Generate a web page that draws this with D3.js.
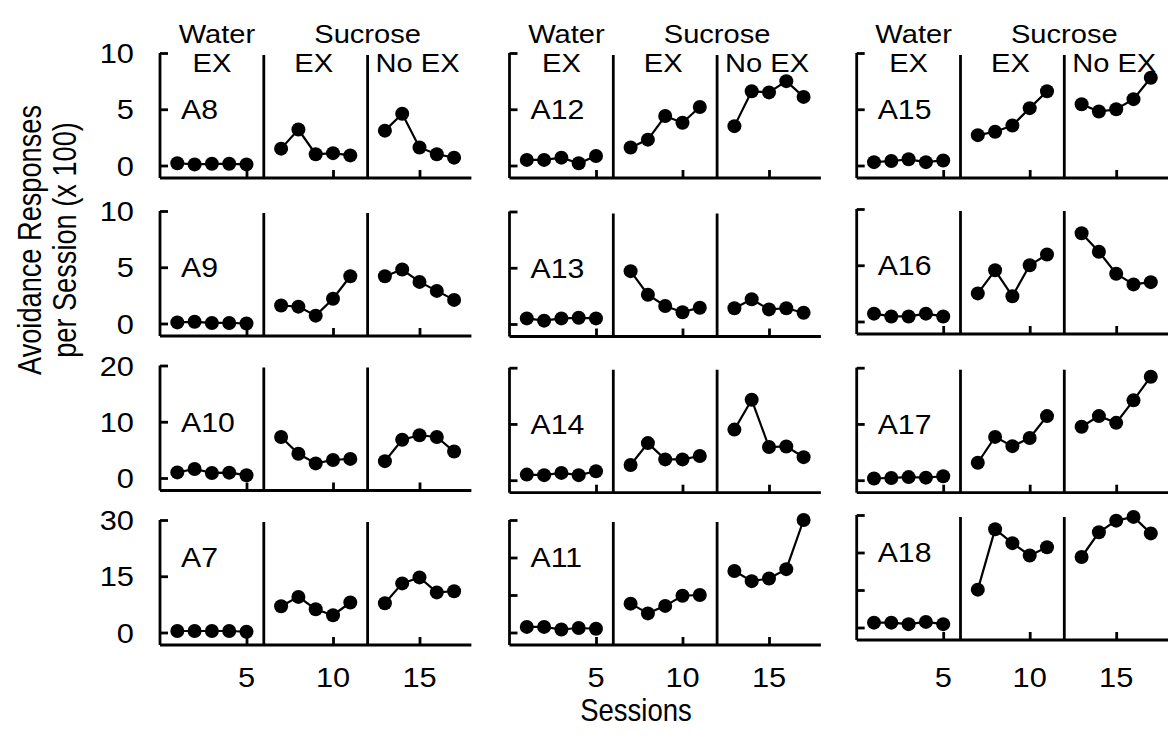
<!DOCTYPE html>
<html>
<head>
<meta charset="utf-8">
<script src="https://cdn.jsdelivr.net/npm/d3@7"></script>
<style>
  html, body { margin: 0; padding: 0; background: #fff; }
  svg text { font-family: "Liberation Sans", Arial, sans-serif; fill: #000; }
</style>
</head>
<body>
<svg id="chart" width="1168" height="738"></svg>
<script>
// ---------- DATA ----------
const waterSessions = [1, 2, 3, 4, 5];
const exSessions = [7, 8, 9, 10, 11];
const noExSessions = [13, 14, 15, 16, 17];
const xTickValues = [5, 10, 15];
const xTickLabels = ["5", "10", "15"];
const phaseDividers = [6, 12];
const phaseTitles = ["Water", "Sucrose"];
const phaseSubtitles = ["EX", "EX", "No EX"];

// values per animal: 5 water EX, 5 sucrose EX, 5 sucrose No EX (x 100 responses)
const A8  = [0.2, 0.1, 0.15, 0.15, 0.1,   1.5, 3.2, 1.0, 1.1, 0.9,   3.1, 4.6, 1.6, 1.0, 0.7];
const A12 = [0.5, 0.5, 0.7, 0.2, 0.85,    1.6, 2.3, 4.4, 3.8, 5.2,   3.5, 6.6, 6.5, 7.5, 6.1];
const A15 = [0.3, 0.4, 0.55, 0.3, 0.45,   2.7, 3.0, 3.55, 5.1, 6.6,  5.45, 4.8, 5.0, 5.9, 7.8];
const A9  = [0.1, 0.15, 0.05, 0.05, 0.0,  1.6, 1.5, 0.7, 2.2, 4.2,   4.2, 4.8, 3.7, 2.9, 2.1];
const A13 = [0.5, 0.3, 0.5, 0.55, 0.5,    4.7, 2.6, 1.6, 1.05, 1.45, 1.4, 2.2, 1.3, 1.4, 1.0];
const A16 = [0.7, 0.45, 0.45, 0.7, 0.45,  2.5, 4.55, 2.25, 5.0, 5.95, 7.85, 6.2, 4.25, 3.3, 3.5];
const A10 = [1.0, 1.6, 0.9, 0.95, 0.5,    7.3, 4.3, 2.6, 3.2, 3.4,   3.0, 6.8, 7.6, 7.3, 4.7];
const A14 = [1.0, 0.9, 1.3, 0.9, 1.6,     2.7, 6.6, 3.7, 3.7, 4.3,   9.0, 14.3, 5.9, 6.0, 4.1];
const A17 = [0.3, 0.4, 0.55, 0.45, 0.7,   3.1, 7.7, 6.05, 7.5, 11.4, 9.5, 11.4, 10.2, 14.2, 18.4];
const A7  = [0.4, 0.4, 0.4, 0.4, 0.2,     7.0, 9.5, 6.2, 4.6, 8.0,   7.8, 13.1, 14.7, 10.7, 11.0];
const A11 = [1.5, 1.5, 0.8, 1.2, 1.0,     7.7, 5.1, 7.1, 9.8, 10.0,  16.4, 13.7, 14.4, 16.9, 30.0];
const A18 = [1.3, 1.3, 0.9, 1.5, 0.9,     10.1, 26.2, 22.5, 19.2, 21.4, 18.8, 25.4, 28.5, 29.5, 25.1];

const panelNames = [
  ["A8", "A12", "A15"],
  ["A9", "A13", "A16"],
  ["A10", "A14", "A17"],
  ["A7", "A11", "A18"]
];
const panelData = { A8, A12, A15, A9, A13, A16, A10, A14, A17, A7, A11, A18 };
const rowMax = [10, 10, 20, 30];
const rowTicksLabeled = [[0, 5, 10], [0, 5, 10], [0, 10, 20], [0, 15, 30]];
const rowTicksUnlabeled = [[0, 5, 10], [0, 5, 10], [0, 10, 20], [0, 10, 20, 30]];
const yTitleLines = ["Avoidance Responses", "per Session (x 100)"];
const xTitle = "Sessions";

// ---------- LAYOUT ----------
const svg = d3.select("#chart");
const colX0 = [160, 509.5, 856.7];
const plotW = 18 * 17.3;
const rowTop = [
  [53, 211, 365.5, 520],
  [53, 211.5, 367.7, 520],
  [53, 209, 367.7, 515]
];
const dataH = 112.5;
const plotH = 125;
const SX = 1.12; // horizontal stretch of lettering
const fs = 26;
const fsTick = 28;

function stretchedText(g, x, y, txt, anchor, size, sx) {
  return g.append("text")
    .attr("transform", `translate(${x},${y}) scale(${sx || SX},1)`)
    .attr("text-anchor", anchor)
    .style("font-size", (size || fs) + "px")
    .text(txt);
}

panelNames.forEach((row, ri) => {
  row.forEach((name, ci) => {
    const vals = panelData[name];
    const top = rowTop[ci][ri];
    const ymax = rowMax[ri];
    const x = d3.scaleLinear().domain([0, 18]).range([colX0[ci], colX0[ci] + plotW]);
    const y = d3.scaleLinear().domain([-ymax * (plotH - dataH) / dataH, ymax]).range([top + plotH, top]);
    const g = svg.append("g");
    const bottom = top + plotH;

    // x axis (inner ticks)
    const xAxis = d3.axisTop(x).tickValues(xTickValues).tickSize(8).tickFormat("");
    const gx = g.append("g").attr("transform", `translate(0,${bottom})`).call(xAxis);
    gx.select(".domain").attr("d", `M${x(0)},0H${x(18)}`);
    gx.selectAll("path,line").attr("stroke", "#000").attr("stroke-width", 2.8);

    // y axis (inner ticks)
    const ticks = ci === 0 ? rowTicksLabeled[ri] : rowTicksUnlabeled[ri];
    const yAxis = d3.axisRight(y).tickValues(ticks).tickSize(8).tickFormat("");
    const gy = g.append("g").attr("transform", `translate(${x(0)},0)`).call(yAxis);
    gy.select(".domain").attr("d", `M0,${y(ymax)}V${bottom}`);
    gy.selectAll("path,line").attr("stroke", "#000").attr("stroke-width", 2.8);

    if (ci === 0) {
      ticks.forEach(t => {
        stretchedText(g, x(0) - 26, y(t) + 10, String(t), "end", fsTick, 1.1);
      });
    }

    // phase dividers
    g.selectAll(".div").data(phaseDividers).join("line")
      .attr("x1", d => x(d)).attr("x2", d => x(d))
      .attr("y1", y(ymax) + 2).attr("y2", bottom)
      .attr("stroke", "#000").attr("stroke-width", 2.8);

    // data
    const phases = [
      waterSessions.map((s, i) => [s, vals[i]]),
      exSessions.map((s, i) => [s, vals[5 + i]]),
      noExSessions.map((s, i) => [s, vals[10 + i]])
    ];
    const line = d3.line().x(d => x(d[0])).y(d => y(d[1]));
    phases.forEach(p => {
      g.append("path").attr("d", line(p)).attr("fill", "none")
        .attr("stroke", "#000").attr("stroke-width", 2.2);
      g.selectAll(null).data(p).join("circle")
        .attr("cx", d => x(d[0])).attr("cy", d => y(d[1])).attr("r", 7)
        .attr("fill", "#000");
    });

    // panel label
    stretchedText(g, x(0) + 21, top + (ri === 3 ? 47 : 66), name, "start", 27);

    // phase titles on top row
    if (ri === 0) {
      stretchedText(g, (x(0) + x(6)) / 2 + 5, top - 10, phaseTitles[0], "middle");
      stretchedText(g, (x(6) + x(18)) / 2, top - 10, phaseTitles[1], "middle");
      stretchedText(g, (x(0) + x(6)) / 2, top + 19, phaseSubtitles[0], "middle");
      stretchedText(g, (x(6) + x(12)) / 2 - 2, top + 19, phaseSubtitles[1], "middle");
      stretchedText(g, (x(12) + x(18)) / 2 - 2, top + 19, phaseSubtitles[2], "middle");
    }

    // x tick labels on bottom row
    if (ri === 3) {
      xTickValues.forEach((v, i) => {
        stretchedText(g, x(v), 687, xTickLabels[i], "middle", fsTick, 1.1);
      });
    }
  });
});

// axis titles
svg.append("text")
  .attr("transform", "translate(636,721) scale(0.86,1)")
  .attr("text-anchor", "middle")
  .style("font-size", "32px")
  .text(xTitle);

yTitleLines.forEach((t, i) => {
  svg.append("text")
    .attr("transform", `translate(${41 + i * 35},240) rotate(-90) scale(0.8,1)`)
    .attr("text-anchor", "middle")
    .style("font-size", "34px")
    .text(t);
});
</script>
</body>
</html>
